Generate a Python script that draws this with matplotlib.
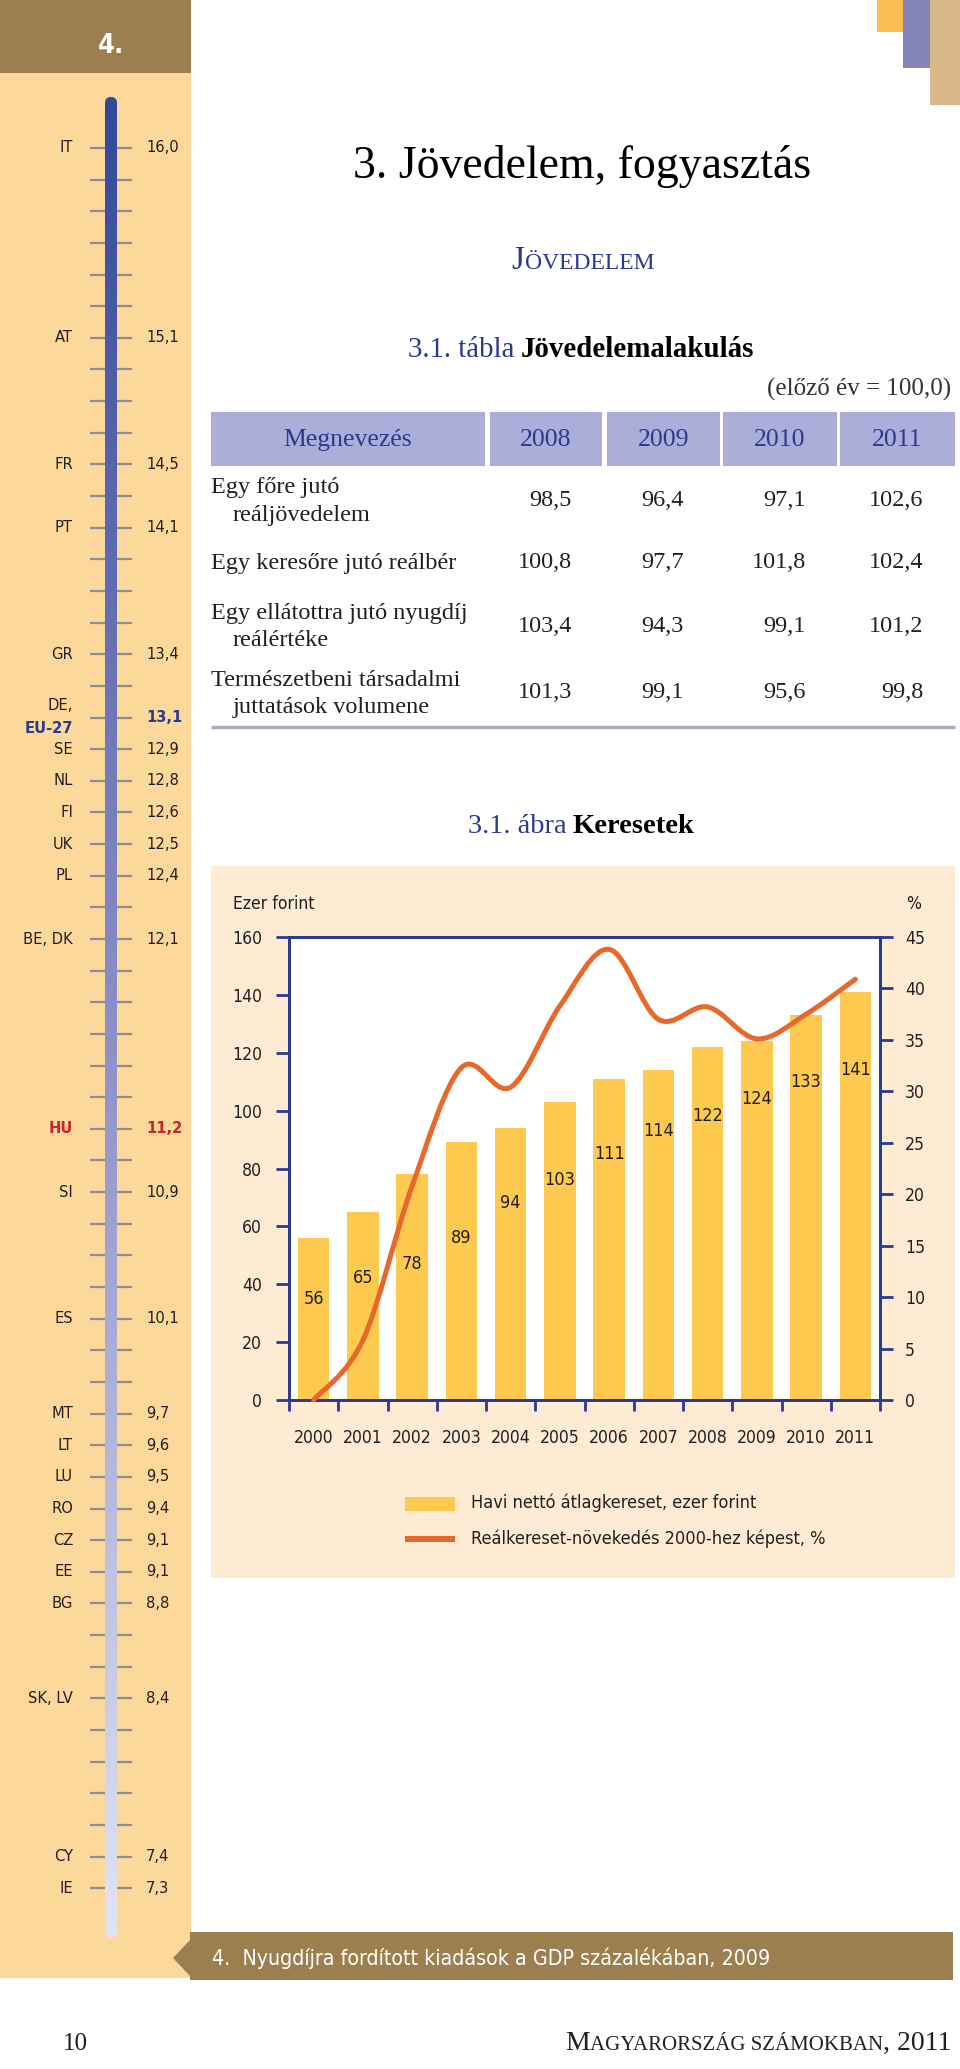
import numpy as np
import matplotlib
matplotlib.use('Agg')
import matplotlib.pyplot as plt
from matplotlib import font_manager
from matplotlib.patches import Rectangle, FancyBboxPatch, Polygon, PathPatch
from matplotlib.path import Path
from matplotlib.colors import LinearSegmentedColormap

W, H = 960, 2069

# left strip: pension expenditure, % of GDP, 2009
countries = ['IT', 'AT', 'FR', 'PT', 'GR', 'DE,', 'SE', 'NL', 'FI', 'UK', 'PL', 'BE, DK',
             'HU', 'SI', 'ES', 'MT', 'LT', 'LU', 'RO', 'CZ', 'EE', 'BG', 'SK, LV', 'CY', 'IE']
pension = [16.0, 15.1, 14.5, 14.1, 13.4, 13.1, 12.9, 12.8, 12.6, 12.5, 12.4, 12.1,
           11.2, 10.9, 10.1, 9.7, 9.6, 9.5, 9.4, 9.1, 9.1, 8.8, 8.4, 7.4, 7.3]
# tick of the (evenly ticked) scale each country sits on
slot = [0, 6, 10, 12, 16, 18, 19, 20, 21, 22, 23, 25, 31, 33, 37, 40, 41, 42, 43,
        44, 45, 46, 49, 54, 55]

# table 3.1
tab_years = ['2008', '2009', '2010', '2011']
tab_rows = [['Egy főre jutó', 'reáljövedelem'], ['Egy keresőre jutó reálbér'],
            ['Egy ellátottra jutó nyugdíj', 'reálértéke'],
            ['Természetbeni társadalmi', 'juttatások volumene']]
tab_vals = [[98.5, 96.4, 97.1, 102.6], [100.8, 97.7, 101.8, 102.4],
            [103.4, 94.3, 99.1, 101.2], [101.3, 99.1, 95.6, 99.8]]

# figure 3.1
years = [str(y) for y in range(2000, 2012)]
wage = [56, 65, 78, 89, 94, 103, 111, 114, 122, 124, 133, 141]       # ezer Ft
growth = [0, 5.8, 20.8, 32.3, 30.4, 38.3, 43.8, 37.0, 38.2, 35.1, 37.5, 40.9]  # %
lab_drop = [21, 23, 31, 33, 26, 27, 26, 21, 24, 20, 23, 27]   # label below bar top

BROWN = '#9b7f4e'; PEACH = '#fdd89b'; PANEL = '#fdecd3'
BLUE = '#2b3990'; LILAC = '#aaaed8'; YELLOW = '#fdc94e'
ORANGE = '#e8672a'; RED = '#c9252c'; INK = '#231f20'

# a condensed sans if one is installed, DejaVu Sans otherwise
ttf = font_manager.fontManager.ttflist
cond = [f for f in ttf if f.name == 'Liberation Sans Narrow']
cond = cond or [f for f in ttf if str(f.stretch) == 'condensed'
                and any(k in f.name for k in ('Sans', 'Roboto', 'Inter', 'Lato'))]
if cond:
    COND, STRETCH = [cond[0].name, 'DejaVu Sans'], 'condensed'
else:
    COND, STRETCH = ['DejaVu Sans'], 'normal'
SERIF = ['Liberation Serif', 'DejaVu Serif']

fig = plt.figure(figsize=(W / 100, H / 100), dpi=100)
pg = fig.add_axes([0, 0, 1, 1])
R = fig.canvas.get_renderer()

# size factor so the condensed texts keep the widths of the original
probe = pg.text(0, 0, 'Havi nettó átlagkereset, ezer forint', fontsize=16,
                family=COND, fontstretch=STRETCH)
CS = 286 / probe.get_window_extent(R).width
probe.remove()
CK = dict(family=COND, fontstretch=STRETCH)


def runs(x, y, parts, ha='left', va='baseline'):
    # parts: (text, gap_before_px, kwargs) laid out one after another
    arts = [pg.text(0, y, s, ha='left', va=va, **kw) for s, g, kw in parts]
    ws = [a.get_window_extent(R).width for a in arts]
    gaps = [g for s, g, kw in parts]
    total = sum(ws) + sum(gaps)
    x0 = {'left': x, 'center': x - total / 2, 'right': x - total}[ha]
    for a, w, g in zip(arts, ws, gaps):
        x0 += g
        a.set_x(x0)
        x0 += w


# ---- page decoration ----
pg.add_patch(Rectangle((0, 0), 191, 73, color=BROWN, lw=0))
pg.add_patch(Rectangle((0, 73), 191, 1905, color=PEACH, lw=0))
pg.text(111, 46, '4.', color='white', fontsize=24 * CS, fontweight='bold',
        ha='center', va='center', **CK)
pg.add_patch(Rectangle((877, 0), 26, 32, color='#fbbd55', lw=0))
pg.add_patch(Rectangle((903, 0), 27, 68, color='#8585b9', lw=0))
pg.add_patch(Rectangle((930, 0), 30, 105, color='#d8b987', lw=0))

# ---- thermometer ----
y0, step = 148, 31.64
ty = [y0 + s * step for s in range(slot[-1] + 1)]
pg.hlines(ty, 90, 132, color='#8e8e8e', lw=1.6, zorder=2)
cmap = LinearSegmentedColormap.from_list('th', ['#34489a', '#8a8fc7', '#e2e3f1'])
im = pg.imshow(np.linspace(0, 1, 256).reshape(-1, 1), cmap=cmap, aspect='auto',
               extent=(105, 117, 1938, 97), zorder=3)
clip = FancyBboxPatch((105, 97), 12, 1841, boxstyle='round,pad=0,rounding_size=6',
                      transform=pg.transData, facecolor='none', edgecolor='none')
pg.add_patch(clip)
im.set_clip_path(clip)

for c, v, s in zip(countries, pension, slot):
    yy = y0 + s * step
    val = f'{v:.1f}'.replace('.', ',')
    kw = dict(fontsize=14.5 * CS, va='center', color=INK, **CK)
    if c == 'HU':
        kw.update(color=RED, fontweight='bold')
    if c == 'DE,':
        pg.text(73, yy - 12, c, ha='right', **kw)
        pg.text(73, yy + 11, 'EU-27', ha='right', **{**kw, 'color': BLUE, 'fontweight': 'bold'})
        kw.update(color=BLUE, fontweight='bold')
    else:
        pg.text(73, yy, c, ha='right', **kw)
    pg.text(146, yy, val, ha='left', **kw)

pg.add_patch(Polygon([(190, 1932), (953, 1932), (953, 1980), (190, 1980),
                      (190, 1976), (173, 1958), (190, 1940)], closed=True,
                     color=BROWN, lw=0))
pg.text(212, 1958, '4.  Nyugdíjra fordított kiadások a GDP százalékában, 2009',
        color='white', fontsize=18.9 * CS, va='center', **CK)

# ---- titles ----
pg.text(582, 178, '3. Jövedelem, fogyasztás', fontsize=33, family=SERIF,
        ha='center', va='baseline', color='black')
runs(583, 269, [('J', 0, dict(fontsize=24, family=SERIF, color=BLUE)),
                ('ÖVEDELEM', 0, dict(fontsize=17, family=SERIF, color=BLUE))],
     ha='center')
runs(581, 357, [('3.1. tábla', 0, dict(fontsize=20.9, family=SERIF, color=BLUE)),
                ('Jövedelemalakulás', 6, dict(fontsize=20.9, family=SERIF,
                                              color='black', fontweight='bold'))],
     ha='center')
pg.text(951, 396, '(előző év = 100,0)', fontsize=18, family=SERIF, ha='right',
        va='baseline', color='#333333')

# ---- table ----
cells = [(211, 485), (490, 602), (607, 720), (723, 837), (840, 955)]
for (a, b), head in zip(cells, ['Megnevezés'] + tab_years):
    pg.add_patch(Rectangle((a, 412), b - a, 54, color=LILAC, lw=0))
    pg.text((a + b) / 2, 440, head, fontsize=18.5, family=SERIF, color=BLUE,
            ha='center', va='center')
row_y = [(488, 516, 501), (563,), (614, 641, 627), (680, 707, 693)]
val_x = [572, 684, 806, 923]
for lines, vals, ys in zip(tab_rows, tab_vals, row_y):
    for k, ln in enumerate(lines):
        pg.text(211 if k == 0 else 233, ys[k], ln, fontsize=17.5, family=SERIF,
                color=INK, va='center')
    for xv, v in zip(val_x, vals):
        pg.text(xv, ys[-1], f'{v:.1f}'.replace('.', ','), fontsize=17.5,
                family=SERIF, color=INK, ha='right', va='center')
pg.hlines(727, 211, 955, color='#a9abc9', lw=2.5)

runs(581, 833, [('3.1. ábra', 0, dict(fontsize=20.5, family=SERIF, color=BLUE)),
                ('Keresetek', 6, dict(fontsize=20.5, family=SERIF, color='black',
                                      fontweight='bold'))], ha='center')

# ---- chart panel ----
pg.add_patch(Rectangle((211, 866), 744, 712, color=PANEL, lw=0))
pg.text(233, 904, 'Ezer forint', fontsize=15.5 * CS, va='center', color=INK, **CK)
pg.text(906, 904, '%', fontsize=15.5 * CS, va='center', color=INK, **CK)

pg.add_patch(Rectangle((405, 1497), 50, 14, color=YELLOW, lw=0))
pg.add_patch(Rectangle((405, 1536), 50, 6, color=ORANGE, lw=0))
pg.text(471, 1503, 'Havi nettó átlagkereset, ezer forint', fontsize=16 * CS,
        va='center', color=INK, **CK)
pg.text(471, 1539, 'Reálkereset-növekedés 2000-hez képest, %', fontsize=16 * CS,
        va='center', color=INK, **CK)

# footer
pg.text(75, 2050, '10', fontsize=18, family=SERIF, ha='center', va='baseline', color=INK)
runs(951, 2050, [('M', 0, dict(fontsize=20, family=SERIF, color=INK)),
                 ('AGYARORSZÁG SZÁMOKBAN', 0, dict(fontsize=15, family=SERIF, color=INK)),
                 (', 2011', 0, dict(fontsize=20, family=SERIF, color=INK))], ha='right')

pg.set_xlim(0, W); pg.set_ylim(H, 0); pg.axis('off')

# ---- figure 3.1 axes ----
ax = fig.add_axes([289 / W, 1 - 1400 / H, (880 - 289) / W, (1400 - 937) / H])
x = np.arange(len(years))
ax.bar(x, wage, width=0.64, color=YELLOW, zorder=2)
for i, (w, d) in enumerate(zip(wage, lab_drop)):
    ax.text(i, w - d, str(w), ha='center', va='center', fontsize=16 * CS,
            color=INK, zorder=3, **CK)
ax.set_xlim(-0.5, len(years) - 0.5)
ax.set_ylim(0, 160)
ax.set_yticks(range(0, 161, 20))
ax.set_xticks(x)
ax.set_xticklabels(years)
ax.set_xticks(np.arange(-0.5, len(years)), minor=True)
ax.tick_params(axis='x', which='major', length=0, pad=21)
ax.tick_params(axis='x', which='minor', length=8, width=2, color=BLUE)
ax.tick_params(axis='y', length=9.5, width=2, color=BLUE, pad=10)

ax2 = ax.twinx()
ax2.set_ylim(0, 45)
ax2.set_yticks(range(0, 46, 5))
ax2.tick_params(axis='y', length=9, width=2, color=BLUE, pad=9)

for a in (ax, ax2):
    for s in a.spines.values():
        s.set_color(BLUE)
        s.set_linewidth(2)
    for lab in a.get_xticklabels() + a.get_yticklabels():
        lab.set_family(COND)
        lab.set_fontstretch(STRETCH)
        lab.set_fontsize(15.5 * CS)
        lab.set_color(INK)

# smooth line through the yearly points (Catmull-Rom as cubic Bezier)
pts = np.column_stack([x, growth]).astype(float)
ext = np.vstack([pts[0], pts, pts[-1]])
verts, codes = [pts[0]], [Path.MOVETO]
for i in range(len(pts) - 1):
    p0, p1, p2, p3 = ext[i], ext[i + 1], ext[i + 2], ext[i + 3]
    verts += [p1 + (p2 - p0) / 6, p2 - (p3 - p1) / 6, p2]
    codes += [Path.CURVE4] * 3
ax2.add_patch(PathPatch(Path(verts, codes), fill=False, edgecolor=ORANGE, lw=3.6,
                        capstyle='round', joinstyle='round', clip_on=False, zorder=4))

fig.savefig('out.png', dpi=100)
